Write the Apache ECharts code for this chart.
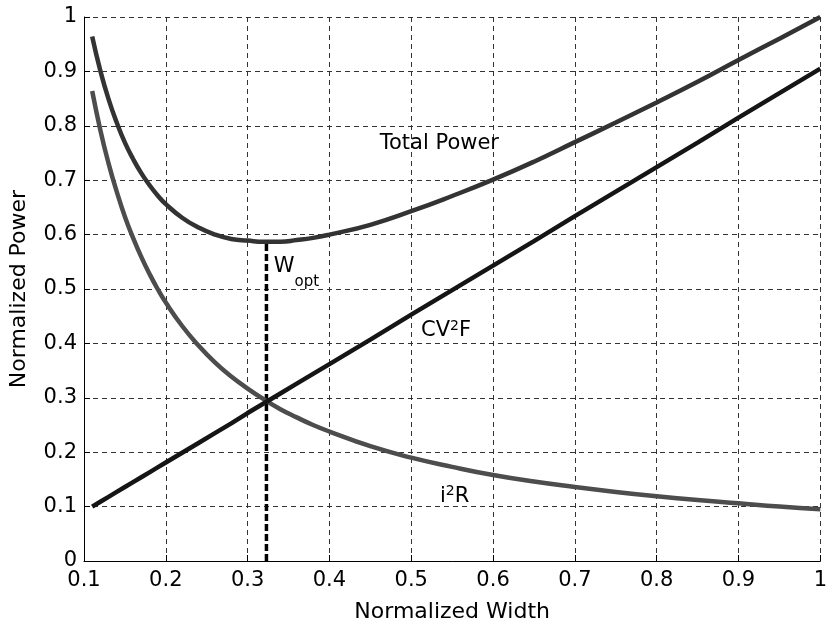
<!DOCTYPE html>
<html>
<head>
<meta charset="utf-8">
<script src="https://cdn.jsdelivr.net/npm/echarts@6/dist/echarts.min.js"></script>
<style>html,body{margin:0;padding:0;background:#fff}#c{width:830px;height:628px}</style>
</head>
<body>
<div id="c"></div>
<script>
// ---- data ----
const widths      = [0.11, 0.12, 0.13, 0.14, 0.15, 0.16, 0.17, 0.18, 0.19, 0.20, 0.22, 0.24, 0.26, 0.28, 0.30, 0.32, 0.34, 0.36, 0.38, 0.40, 0.45, 0.50, 0.55, 0.60, 0.65, 0.70, 0.75, 0.80, 0.85, 0.90, 0.95, 1.00];
const totalPower  = [0.964, 0.901, 0.849, 0.806, 0.769, 0.739, 0.713, 0.691, 0.672, 0.656, 0.631, 0.613, 0.600, 0.592, 0.589, 0.587, 0.587, 0.590, 0.594, 0.600, 0.618, 0.643, 0.671, 0.701, 0.734, 0.770, 0.806, 0.843, 0.881, 0.921, 0.960, 1.000];
const i2rPower    = [0.864, 0.792, 0.731, 0.679, 0.633, 0.594, 0.559, 0.528, 0.500, 0.475, 0.432, 0.396, 0.365, 0.339, 0.317, 0.297, 0.279, 0.264, 0.250, 0.238, 0.211, 0.190, 0.173, 0.158, 0.146, 0.136, 0.127, 0.119, 0.112, 0.106, 0.100, 0.095];
const cv2fPower   = [0.100, 0.109, 0.118, 0.127, 0.136, 0.145, 0.154, 0.163, 0.172, 0.181, 0.199, 0.217, 0.235, 0.253, 0.272, 0.290, 0.308, 0.326, 0.344, 0.362, 0.407, 0.453, 0.498, 0.543, 0.588, 0.634, 0.679, 0.724, 0.769, 0.815, 0.860, 0.905];
const wOpt = 0.323;
const wOptPower = 0.587;
const xTitle = 'Normalized Width';
const yTitle = 'Normalized Power';

// annotation anchor points (data coordinates)
const labelTotal = [0.4615, 0.768];
const labelWopt  = [0.332, 0.530];
const labelCV2F  = [0.512, 0.423];
const labelI2R   = [0.535, 0.118];

const FONT = 'DejaVu Sans';
const pair = (xs, ys) => xs.map((x, i) => [x, ys[i]]);

const chart = echarts.init(document.getElementById('c'), null, {renderer: 'canvas'});
const gridLine = {show: true, lineStyle: {color: '#333', width: 1, type: [5, 4]}};
const rich = {
  b: {fontFamily: FONT, fontSize: 21, color: '#000', lineHeight: 24, verticalAlign: 'middle'},
  s: {fontFamily: FONT, fontSize: 14, color: '#000', lineHeight: 24, verticalAlign: 'top'},
  w: {fontFamily: FONT, fontSize: 21, color: '#000', lineHeight: 34, verticalAlign: 'top'},
  o: {fontFamily: FONT, fontSize: 15, color: '#000', lineHeight: 34, verticalAlign: 'bottom'}
};
chart.setOption({
  animation: false,
  backgroundColor: '#fff',
  grid: {left: 84, right: 4, top: 17, bottom: 67, containLabel: false},
  xAxis: {
    type: 'value', min: 0.1, max: 1, interval: 0.1,
    name: xTitle, nameLocation: 'middle', nameGap: 40,
    nameTextStyle: {fontFamily: FONT, fontSize: 22, color: '#000'},
    axisLine: {show: true, onZero: false, lineStyle: {color: '#000', width: 1}},
    axisTick: {show: true, inside: true, length: 6, lineStyle: {color: '#000'}},
    axisLabel: {fontFamily: FONT, fontSize: 21, color: '#000', margin: 9,
      formatter: v => (Math.round(v * 10) / 10).toString()},
    splitLine: gridLine
  },
  yAxis: {
    type: 'value', min: 0, max: 1, interval: 0.1,
    name: yTitle, nameLocation: 'middle', nameGap: 54, nameRotate: 90,
    nameTextStyle: {fontFamily: FONT, fontSize: 22, color: '#000'},
    axisLine: {show: true, lineStyle: {color: '#000', width: 1}},
    axisTick: {show: true, inside: true, length: 6, lineStyle: {color: '#000'}},
    axisLabel: {fontFamily: FONT, fontSize: 21, color: '#000', margin: 7,
      formatter: v => (Math.round(v * 10) / 10).toString()},
    splitLine: gridLine
  },
  series: [
    {type: 'line', name: 'Wopt', data: [[wOpt, 0], [wOpt, wOptPower]], symbol: 'none',
     lineStyle: {color: '#000', width: 3.5, type: [7, 3]}, silent: true, z: 2},
    {type: 'line', name: 'i2R', data: pair(widths, i2rPower), symbol: 'none', smooth: true,
     lineStyle: {color: '#4d4d4d', width: 4.5}, silent: true, z: 3},
    {type: 'line', name: 'Total', data: pair(widths, totalPower), symbol: 'none', smooth: true,
     lineStyle: {color: '#333333', width: 4.5}, silent: true, z: 4},
    {type: 'line', name: 'CV2F', data: pair(widths, cv2fPower), symbol: 'none',
     lineStyle: {color: '#151515', width: 4.5}, silent: true, z: 5},
    {type: 'scatter', symbolSize: 0, silent: true, z: 6,
     itemStyle: {opacity: 1, color: '#000'},
     label: {show: true, position: 'right', distance: 0, color: '#000', opacity: 1,
       fontFamily: FONT, fontSize: 21, rich: rich},
     data: [
       {value: labelTotal, label: {formatter: '{b|Total Power}'}},
       {value: labelWopt, label: {formatter: '{w|W}{o|opt}'}},
       {value: labelCV2F, label: {formatter: '{b|CV}{s|2}{b|F}'}},
       {value: labelI2R, label: {formatter: '{b|i}{s|2}{b|R}'}}
     ]}
  ]
});
</script>
</body>
</html>
